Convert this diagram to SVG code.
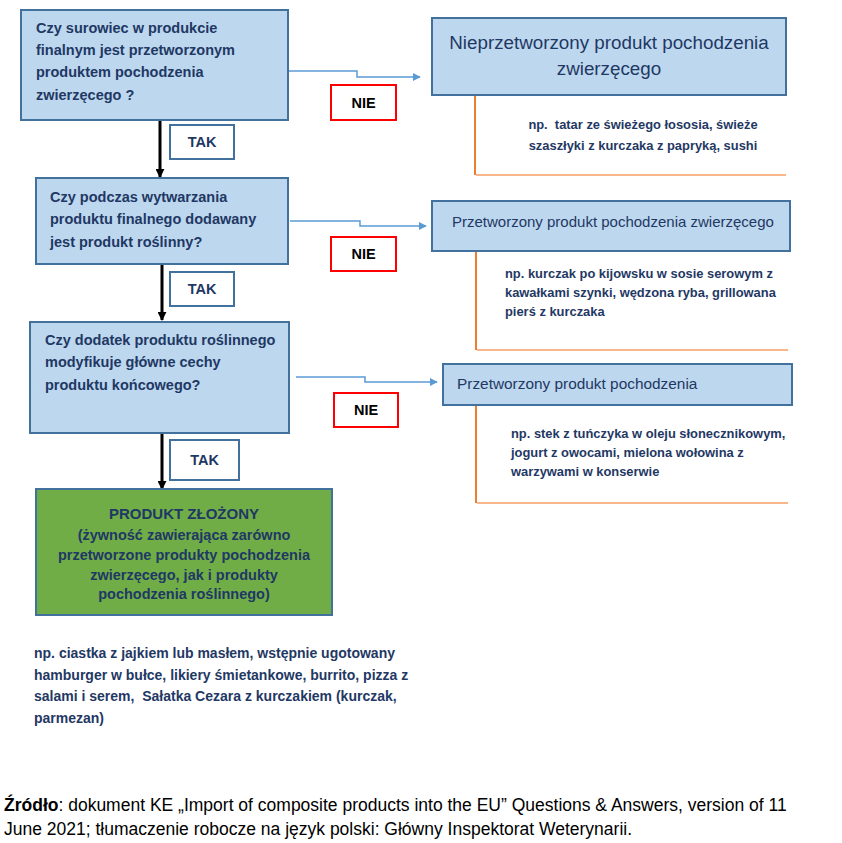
<svg xmlns="http://www.w3.org/2000/svg" width="842" height="843" viewBox="0 0 842 843">
<defs>
<style>
.q{fill:#BDD7EE;stroke:#41719C;stroke-width:2}
.g{fill:#70AD47;stroke:#41719C;stroke-width:2}
.lab{fill:#fff;stroke:#41719C;stroke-width:2}
.nie{fill:#fff;stroke:#FF0000;stroke-width:2}
text{font-family:"Liberation Sans",Arial,sans-serif;fill:#1F3864}
.qt{font-size:14.5px;font-weight:bold}
.rt{font-size:15px}
.ex{font-size:12.9px;font-weight:bold;white-space:pre}
.lt{font-size:14.5px;font-weight:bold}
.blk{fill:#000}
.src{font-size:17.5px;fill:#000}
.bl{fill:none;stroke:#5B9BD5;stroke-width:1.5}
.yes{fill:none;stroke:#000;stroke-width:3}
.ov{fill:none;stroke:#ED7D31;stroke-width:2}
.oh{fill:none;stroke:#F8B68A;stroke-width:2}
</style>
<marker id="ab" viewBox="0 0 10 10" refX="9" refY="5" markerWidth="8" markerHeight="8" markerUnits="userSpaceOnUse" orient="auto"><path d="M0,0 L10,5 L0,10 z" fill="#5B9BD5"/></marker>
<marker id="ak" viewBox="0 0 10 10" refX="9" refY="5" markerWidth="9" markerHeight="9" markerUnits="userSpaceOnUse" orient="auto"><path d="M0,0 L10,5 L0,10 z" fill="#000"/></marker>
</defs>
<rect width="842" height="843" fill="#fff"/>

<g id="connectors">
<path class="bl" d="M288,71 H357 V77 H420" marker-end="url(#ab)"/>
<path class="bl" d="M290,221 H360 V226 H426" marker-end="url(#ab)"/>
<path class="bl" d="M296,377 H365 V382 H437" marker-end="url(#ab)"/>
<path class="yes" d="M160,120 V177" marker-end="url(#ak)"/>
<path class="yes" d="M162,264 V320" marker-end="url(#ak)"/>
<path class="yes" d="M162,433 V489" marker-end="url(#ak)"/>
<path class="ov" d="M475,95 V175"/><path class="oh" d="M476,175 H786"/>
<path class="ov" d="M476,251 V350"/><path class="oh" d="M477,350 H788"/>
<path class="ov" d="M476,405 V503"/><path class="oh" d="M477,503 H788"/>
</g>

<g id="q1">
<rect class="q" x="21" y="10" width="267" height="110"/>
<text class="qt" x="36" y="33">Czy surowiec w produkcie</text>
<text class="qt" x="36" y="55">finalnym jest przetworzonym</text>
<text class="qt" x="36" y="77">produktem pochodzenia</text>
<text class="qt" x="36" y="100">zwierzęcego ?</text>
</g>
<g id="nie1"><rect class="nie" x="331" y="85" width="65" height="35"/><text class="lt blk" x="363.5" y="108" text-anchor="middle">NIE</text></g>
<g id="tak1"><rect class="lab" x="170" y="125" width="64" height="34"/><text class="lt" x="202" y="147" text-anchor="middle">TAK</text></g>

<g id="r1">
<rect class="q" x="432" y="18" width="354" height="77"/>
<text class="rt" x="609" y="48.5" text-anchor="middle" style="font-size:18.8px">Nieprzetworzony produkt pochodzenia</text>
<text class="rt" x="609" y="74.5" text-anchor="middle" style="font-size:18.8px">zwierzęcego</text>
</g>
<g id="ex1">
<text class="ex" x="643" y="128.5" text-anchor="middle" xml:space="preserve">np.  tatar ze świeżego łososia, świeże</text>
<text class="ex" x="643" y="149.5" text-anchor="middle">szaszłyki z kurczaka z papryką, sushi</text>
</g>

<g id="q2">
<rect class="q" x="36" y="178" width="252" height="86"/>
<text class="qt" x="50" y="202">Czy podczas wytwarzania</text>
<text class="qt" x="50" y="224">produktu finalnego dodawany</text>
<text class="qt" x="50" y="247">jest produkt roślinny?</text>
</g>
<g id="nie2"><rect class="nie" x="331" y="237" width="65" height="34"/><text class="lt blk" x="363.5" y="259" text-anchor="middle">NIE</text></g>
<g id="tak2"><rect class="lab" x="170" y="272" width="64" height="34"/><text class="lt" x="202" y="294" text-anchor="middle">TAK</text></g>

<g id="r2">
<rect class="q" x="432" y="201" width="358" height="50"/>
<text class="rt" x="452" y="227">Przetworzony produkt pochodzenia zwierzęcego</text>
</g>
<g id="ex2">
<text class="ex" x="505" y="277.5">np. kurczak po kijowsku w sosie serowym z</text>
<text class="ex" x="505" y="296.5">kawałkami szynki, wędzona ryba, grillowana</text>
<text class="ex" x="505" y="315.5">pierś z kurczaka</text>
</g>

<g id="q3">
<rect class="q" x="30" y="322" width="259" height="111"/>
<text class="qt" x="45" y="345">Czy dodatek produktu roślinnego</text>
<text class="qt" x="45" y="367">modyfikuje główne cechy</text>
<text class="qt" x="45" y="390">produktu końcowego?</text>
</g>
<g id="nie3"><rect class="nie" x="334" y="393" width="64" height="34"/><text class="lt blk" x="366" y="415" text-anchor="middle">NIE</text></g>
<g id="tak3"><rect class="lab" x="170" y="440" width="69" height="40"/><text class="lt" x="204.5" y="465" text-anchor="middle">TAK</text></g>

<g id="r3">
<rect class="q" x="443" y="364" width="349" height="41"/>
<text class="rt" x="457" y="388.5" style="font-size:15.4px">Przetworzony produkt pochodzenia</text>
</g>
<g id="ex3">
<text class="ex" x="511" y="437.5">np. stek z tuńczyka w oleju słonecznikowym,</text>
<text class="ex" x="511" y="456.5">jogurt z owocami, mielona wołowina z</text>
<text class="ex" x="511" y="475.5">warzywami w konserwie</text>
</g>

<g id="result">
<rect class="g" x="36" y="489" width="296" height="126"/>
<text x="184" y="518.5" text-anchor="middle" style="font-size:15px;font-weight:bold">PRODUKT ZŁOŻONY</text>
<text class="qt" x="184" y="539.5" text-anchor="middle">(żywność zawierająca zarówno</text>
<text class="qt" x="184" y="560" text-anchor="middle">przetworzone produkty pochodzenia</text>
<text class="qt" x="184" y="580" text-anchor="middle">zwierzęcego, jak i produkty</text>
<text class="qt" x="184" y="598.5" text-anchor="middle">pochodzenia roślinnego)</text>
</g>
<g id="ex4">
<text class="ex" x="34" y="658" style="font-size:14px">np. ciastka z jajkiem lub masłem, wstępnie ugotowany</text>
<text class="ex" x="34" y="680" style="font-size:14px">hamburger w bułce, likiery śmietankowe, burrito, pizza z</text>
<text class="ex" x="34" y="701" style="font-size:14px" xml:space="preserve">salami i serem,  Sałatka Cezara z kurczakiem (kurczak,</text>
<text class="ex" x="34" y="723" style="font-size:14px">parmezan)</text>
</g>

<g id="source">
<text class="src" x="4" y="811"><tspan font-weight="bold">Źródło</tspan>: dokument KE „Import of composite products into the EU” Questions &amp; Answers, version of 11</text>
<text class="src" x="4" y="835">June 2021; tłumaczenie robocze na język polski: Główny Inspektorat Weterynarii.</text>
</g>
</svg>
